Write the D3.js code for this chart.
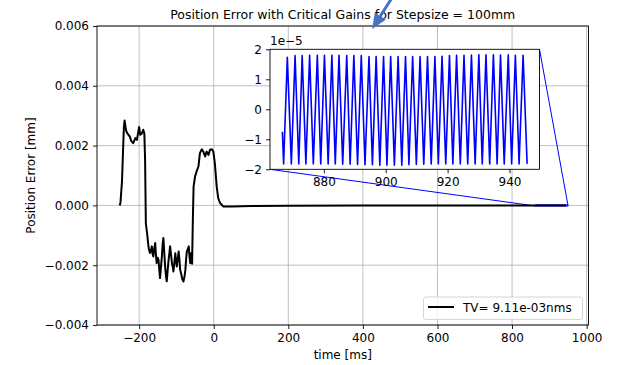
<!DOCTYPE html>
<html><head><meta charset="utf-8">
<script src="https://cdn.jsdelivr.net/npm/d3@7"></script>
<style>body{margin:0;background:#fff}svg{display:block;font-family:"DejaVu Sans",sans-serif}</style>
</head><body><svg id="c" width="621" height="365"></svg>
<script>
// ---- data ----
const mainT = [-252,-250,-246,-241,-239,-235,-232,-225,-221,-216,-210,-206,-200,-197,-193,-189,-186,-184,-182,-178,-176,-174,-171,-168,-166,-164,-162,-160,-157,-155,-153,-150,-148,-146,-144,-141,-139,-137,-135,-132,-130,-128,-126,-123,-121,-119,-117,-114,-112,-110,-108,-105,-103,-101,-99,-96,-94,-92,-90,-87,-85,-83,-81,-78,-76,-74,-72,-69,-67,-65,-63,-60,-58,-56,-54,-50,-46,-41,-37,-32,-28,-23,-19,-14,-10,-5,-1,3,8,12,17,26,50,100,200,400,945];
const mainV = [0,0.0001,0.0008,0.0026,0.00284,0.0025,0.00242,0.0023,0.00215,0.00208,0.00225,0.00219,0.00262,0.00236,0.0024,0.00253,0.0024,0.0015,-0.0006,-0.001,-0.00126,-0.00145,-0.00159,-0.00148,-0.00137,-0.00162,-0.00171,-0.00150,-0.00126,-0.00165,-0.00193,-0.00175,-0.00182,-0.00215,-0.00243,-0.00200,-0.00171,-0.00130,-0.00109,-0.00170,-0.0021,-0.00235,-0.00254,-0.00210,-0.00182,-0.00160,-0.00137,-0.00170,-0.00193,-0.00205,-0.00221,-0.00185,-0.0016,-0.00185,-0.00204,-0.00175,-0.00154,-0.00180,-0.00215,-0.00230,-0.00243,-0.00250,-0.00254,-0.00235,-0.00215,-0.00180,-0.00154,-0.00145,-0.00137,-0.00170,-0.00193,-0.00159,-0.00195,-0.0005,0.00063,0.00097,0.00113,0.0013,0.00175,0.00188,0.0018,0.00164,0.0018,0.00169,0.00186,0.00188,0.0018,0.00141,0.00063,0.00024,0.00008,-0.00004,-0.00004,-0.00002,-0.00001,0,0];
// inset (values in units of 1e-5)
const insetT = [866.6,867.0,868.2,869.5,870.7,871.9,873.0,874.2,875.4,876.6,877.9,879.0,880.2,881.4,882.6,883.7,884.9,886.1,887.4,888.5,889.7,890.9,892.1,893.3,894.6,895.7,896.9,898.1,899.3,900.4,901.6,902.8,904.0,905.2,906.4,907.5,908.7,909.9,911.1,912.3,913.5,914.7,915.9,917.0,918.2,919.4,920.6,921.7,922.9,924.1,925.3,926.5,927.7,928.9,930.1,931.2,932.4,933.6,934.8,936.0,937.1,938.3,939.6,940.7,941.9,943.1,944.4,945.7];
const insetV = [-0.75,-1.82,1.73,-1.82,1.79,-1.82,1.79,-1.82,1.8,-1.82,1.8,-1.82,1.8,-1.82,1.8,-1.82,1.8,-1.83,1.79,-1.83,1.79,-1.84,1.79,-1.85,1.755,-1.85,1.755,-1.86,1.755,-1.86,1.755,-1.86,1.76,-1.86,1.755,-1.85,1.755,-1.84,1.755,-1.83,1.755,-1.82,1.76,-1.82,1.77,-1.82,1.79,-1.82,1.8,-1.82,1.8,-1.82,1.81,-1.82,1.82,-1.82,1.82,-1.82,1.82,-1.82,1.81,-1.82,1.82,-1.82,1.8,-1.82,1.8,-1.82];
const xTicks = [-200,0,200,400,600,800,1000];
const yTicks = [-0.004,-0.002,0,0.002,0.004,0.006];
const insetXTicks = [880,900,920,940];
const insetYTicks = [-2,-1,0,1,2];
const title = "Position Error with Critical Gains for Stepsize = 100mm";
const xLabel = "time [ms]", yLabel = "Position Error [mm]";
const legendLabel = "TV= 9.11e-03nms";
const insetScaleLabel = "1e\u22125";
const arrowTip = [425, 0.0059], arrowTail = [487, 0.00712];

// ---- drawing ----
const svg = d3.select("#c");
const L=97, R=588.5, T=26, B=325;
const x = d3.scaleLinear().domain([-313,1005]).range([L,R]);
const y = d3.scaleLinear().domain([-0.004,0.006]).range([B,T]);
const minus = s => s.replace("-", "\u2212");
const fs = 12;

// grid
const g = svg.append("g");
g.selectAll(".gx").data(xTicks).join("line").attr("x1",d=>x(d)).attr("x2",d=>x(d)).attr("y1",T).attr("y2",B).attr("stroke","#b0b0b0").attr("stroke-width",0.8);
g.selectAll(".gy").data(yTicks).join("line").attr("y1",d=>y(d)).attr("y2",d=>y(d)).attr("x1",L).attr("x2",R).attr("stroke","#b0b0b0").attr("stroke-width",0.8);

// zoom rect & connectors (drawn under main line)
const zc = "#0000ff";
const iL=270, iR=539.5, iT=49.3, iB=169.3;
const xiDom=[862.6,949.7];
svg.append("rect").attr("x",x(xiDom[0])).attr("y",y(2e-5)).attr("width",x(xiDom[1])-x(xiDom[0])).attr("height",Math.max(0.5,y(-2e-5)-y(2e-5))).attr("fill","none").attr("stroke",zc).attr("stroke-width",1);
svg.append("line").attr("x1",iL).attr("y1",iB).attr("x2",x(xiDom[0])).attr("y2",y(-2e-5)).attr("stroke",zc).attr("stroke-width",1);
svg.append("line").attr("x1",iR).attr("y1",iT).attr("x2",x(xiDom[1])).attr("y2",y(2e-5)).attr("stroke",zc).attr("stroke-width",1);

// main line
const mainData = mainT.map((t,i)=>[t,mainV[i]]);
svg.append("path").datum(mainData).attr("fill","none").attr("stroke","#000").attr("stroke-width",2).attr("stroke-linejoin","round")
  .attr("d", d3.line().x(d=>x(d[0])).y(d=>y(d[1])));

// axes
const xa = svg.append("g").attr("transform",`translate(0,${B})`).call(d3.axisBottom(x).tickValues(xTicks).tickSize(4).tickPadding(4).tickFormat(d=>minus(String(d))));
const ya = svg.append("g").attr("transform",`translate(${L},0)`).call(d3.axisLeft(y).tickValues(yTicks).tickSize(4).tickPadding(4).tickFormat(d=>minus(d3.format(".3f")(d))));
[xa,ya].forEach(a=>{a.select(".domain").remove();a.selectAll("text").attr("font-size",fs).attr("font-family","DejaVu Sans").attr("fill","#000");a.selectAll("line").attr("stroke","#000").attr("stroke-width",0.9);});
svg.append("rect").attr("x",L).attr("y",T).attr("width",R-L).attr("height",B-T).attr("fill","none").attr("stroke","#000").attr("stroke-width",0.9);

// title and labels
svg.append("text").attr("x",(L+R)/2).attr("y",19).attr("text-anchor","middle").attr("font-size",12.5).text(title);
svg.append("text").attr("x",(L+R)/2).attr("y",359).attr("text-anchor","middle").attr("font-size",fs).text(xLabel);
svg.append("text").attr("transform",`translate(35,${(T+B)/2}) rotate(-90)`).attr("text-anchor","middle").attr("font-size",fs).text(yLabel);

// inset
const xi = d3.scaleLinear().domain(xiDom).range([iL,iR]);
const yi = d3.scaleLinear().domain([-2,2]).range([iB,iT]);
svg.append("rect").attr("x",iL).attr("y",iT).attr("width",iR-iL).attr("height",iB-iT).attr("fill","#fff");
svg.append("path").datum(insetT.map((t,i)=>[t,insetV[i]])).attr("fill","none").attr("stroke","#0000ff").attr("stroke-width",1.6).attr("stroke-linejoin","round")
  .attr("d", d3.line().x(d=>xi(d[0])).y(d=>yi(d[1])));
const xia = svg.append("g").attr("transform",`translate(0,${iB})`).call(d3.axisBottom(xi).tickValues(insetXTicks).tickSize(4).tickPadding(4));
const yia = svg.append("g").attr("transform",`translate(${iL},0)`).call(d3.axisLeft(yi).tickValues(insetYTicks).tickSize(4).tickPadding(4).tickFormat(d=>minus(String(d))));
[xia,yia].forEach(a=>{a.select(".domain").remove();a.selectAll("text").attr("font-size",fs).attr("font-family","DejaVu Sans").attr("fill","#000");a.selectAll("line").attr("stroke","#000").attr("stroke-width",0.9);});
svg.append("rect").attr("x",iL).attr("y",iT).attr("width",iR-iL).attr("height",iB-iT).attr("fill","none").attr("stroke","#000").attr("stroke-width",0.9);
svg.append("text").attr("x",iL).attr("y",iT-4).attr("font-size",fs).text(insetScaleLabel);

// legend
const lg = svg.append("g");
lg.append("rect").attr("x",423.5).attr("y",297).attr("width",159).attr("height",22.5).attr("rx",2.5).attr("fill","#fff").attr("fill-opacity",0.8).attr("stroke","#d0d0d0").attr("stroke-width",0.9);
lg.append("line").attr("x1",428).attr("x2",454).attr("y1",307).attr("y2",307).attr("stroke","#000").attr("stroke-width",2);
lg.append("text").attr("x",463).attr("y",312).attr("font-size",fs).text(legendLabel);

// annotation arrow
const ac = "#4472c4";
const tip=[x(arrowTip[0]),y(arrowTip[1])], tail=[x(arrowTail[0]),y(arrowTail[1])];
const ang = Math.atan2(tip[1]-tail[1], tip[0]-tail[0]);
const hl=15, hw=6.5;
const base=[tip[0]-hl*Math.cos(ang), tip[1]-hl*Math.sin(ang)];
svg.append("line").attr("x1",tail[0]).attr("y1",tail[1]).attr("x2",base[0]).attr("y2",base[1]).attr("stroke",ac).attr("stroke-width",3);
svg.append("path").attr("fill",ac).attr("d",`M${tip[0]},${tip[1]}L${base[0]+hw*Math.sin(ang)},${base[1]-hw*Math.cos(ang)}L${base[0]-hw*Math.sin(ang)},${base[1]+hw*Math.cos(ang)}Z`);
</script></body></html>
